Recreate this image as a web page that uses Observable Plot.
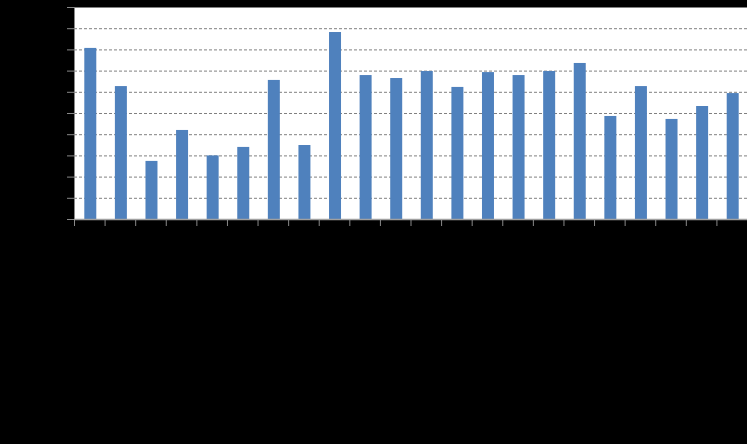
<!DOCTYPE html>
<html>
<head>
<meta charset="utf-8">
<script src="https://cdn.jsdelivr.net/npm/d3@7"></script>
<script src="https://cdn.jsdelivr.net/npm/@observablehq/plot@0.6"></script>
<style>
  html, body { margin: 0; padding: 0; background: #000; }
  #chart { width: 747px; height: 444px; }
</style>
</head>
<body>
<div id="chart"></div>
<script>
const categories = ["1","2","3","4","5","6","7","8","9","10","11","12","13","14","15","16","17","18","19","20","21","22"];
const values = [80.7, 62.7, 27.4, 42.0, 30.0, 34.0, 65.6, 34.9, 88.2, 67.9, 66.5, 69.8, 62.3, 69.3, 67.9, 69.8, 73.6, 48.6, 62.7, 47.2, 53.3, 59.4];
const yTicks = [0, 10, 20, 30, 40, 50, 60, 70, 80, 90, 100];

const data = categories.map((c, i) => ({category: c, i, value: values[i]}));
const xTicks = d3.range(0, categories.length + 1);

const chart = Plot.plot({
  width: 747,
  height: 444,
  marginLeft: 74,
  marginRight: 0,
  marginTop: 7,
  marginBottom: 225,
  style: {background: "#000"},
  x: {domain: [0, categories.length], axis: null},
  y: {domain: [0, 100], axis: null},
  marks: [
    Plot.frame({fill: "#fff", stroke: null}),
    Plot.ruleY(yTicks.slice(1), {stroke: "#808080", strokeDasharray: "3,2", strokeWidth: 1}),
    Plot.rectY(data, {x1: "i", x2: d => d.i + 1, y: "value", insetLeft: 10.3, insetRight: 8.3, fill: "#4F81BD"}),
    Plot.axisY(yTicks, {tickSize: 7, tickFormat: () => "", stroke: "#898989"}),
    Plot.axisX(xTicks, {tickSize: 7, tickFormat: () => "", stroke: "#898989"}),
    Plot.ruleX([0], {stroke: "#898989"}),
    Plot.ruleY([0], {stroke: "#a0a0a0", strokeWidth: 1.5})
  ]
});
document.getElementById("chart").appendChild(chart);
</script>
</body>
</html>
